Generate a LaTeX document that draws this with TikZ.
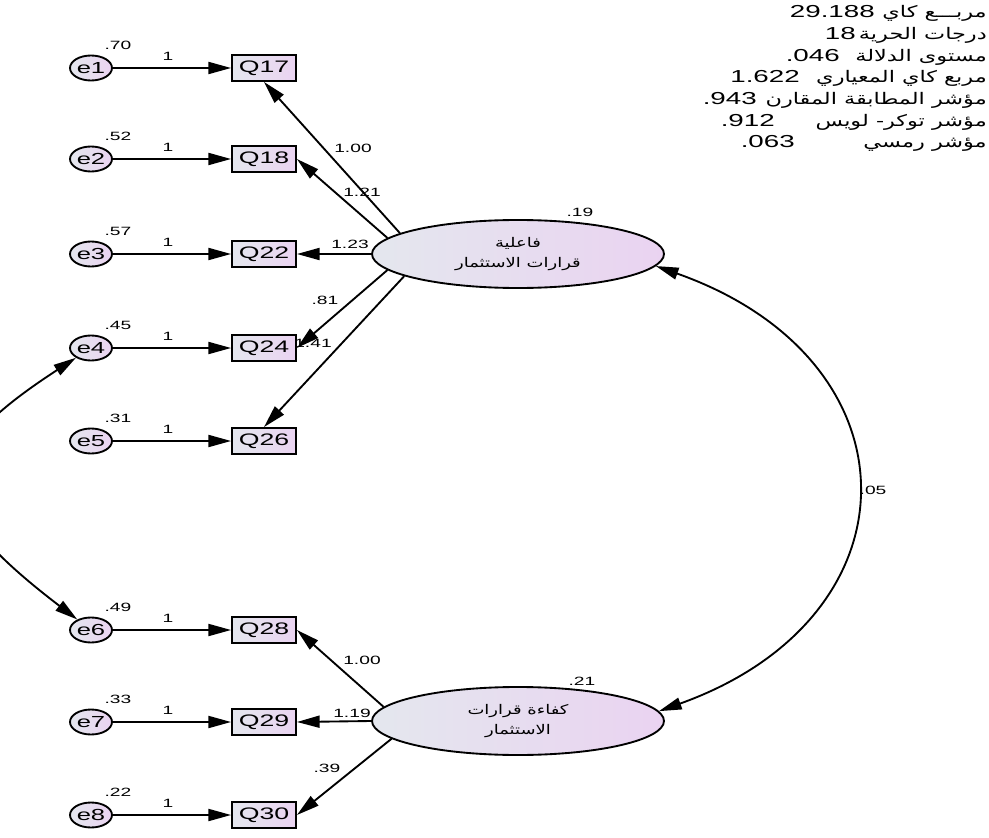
\documentclass[tikz,border=0pt]{standalone}
\usepackage{fontspec}
\setmainfont{Liberation Sans}[FakeStretch=1.6]
\newfontfamily\arabicfont[Script=Arabic,FakeStretch=1.35]{DejaVu Sans}
\newfontfamily\arabicwide[Script=Arabic,FakeStretch=1.4]{DejaVu Sans}
\TeXXeTstate=1
\usetikzlibrary{arrows.meta,shapes.geometric}
\definecolor{shadeL}{HTML}{E4E7EE}
\definecolor{shadeR}{HTML}{EAD3F1}
\tikzset{
  tip/.tip={Triangle[length=17pt,width=9pt]},
  edge/.style={line width=1.4pt,-tip},
  cov/.style={line width=1.4pt,tip-tip},
  errnode/.style={ellipse,draw,line width=1.4pt,left color=shadeL,right color=shadeR,
    minimum width=31.5pt,minimum height=18.75pt,inner sep=0pt,font=\fontsize{12}{12}\selectfont},
  itembox/.style={rectangle,draw,line width=1.4pt,left color=shadeL,right color=shadeR,
    minimum width=48pt,minimum height=19.5pt,inner sep=0pt,font=\fontsize{12.5}{13}\selectfont},
  factor/.style={ellipse,draw,line width=1.4pt,left color=shadeL,right color=shadeR,
    minimum width=219pt,minimum height=51pt,inner sep=0pt,align=center,
    font=\arabicfont\fontsize{10}{15}\selectfont},
  est/.style={font=\fontsize{9}{9}\selectfont,inner sep=0pt},
  fitar/.style={font=\arabicwide\fontsize{12}{13}\selectfont,inner sep=0pt,anchor=base east},
  fitnum/.style={font=\fontsize{13}{13}\selectfont,inner sep=0pt,anchor=base east},
}
\begin{document}
\begin{tikzpicture}[x=0.75pt,y=-0.75pt]
\clip (0,0) rectangle (989,838);
\fill[white] (0,0) rectangle (989,838);

% error terms, observed items and their unit paths
\foreach \i/\q/\yy/\v in {1/17/68/.70,2/18/159/.52,3/22/254/.57,4/24/348/.45,
                          5/26/441/.31,6/28/630/.49,7/29/722/.33,8/30/815/.22}{
  \node[errnode] (e\i) at (91,\yy) {e\i};
  \node[itembox] (q\q) at (264,\yy) {Q\q};
  \draw[edge] (e\i) -- (q\q);
  \node[est] (one\i) at (168,\yy-12) {1};
  \node[est] (var\i) at (118,\yy-23) {\v};
}

% latent factors
\node[factor] (f1) at (518,254) {\beginR فاعلية\endR\\\beginR قرارات الاستثمار\endR};
\node[factor] (f2) at (518,721) {\beginR كفاءة قرارات\endR\\\beginR الاستثمار\endR};
\node[est] (vf1) at (580,212) {.19};
\node[est] (vf2) at (582,681) {.21};

% loadings of the first factor
\draw[edge] (f1.170) -- (q17.south);
\draw[edge] (f1.173) -- (q18.east);
\draw[edge] (f1.west) -- (q22.east);
\draw[edge] (f1.-173) -- (q24.east);
\draw[edge] (f1.-169) -- (q26.north);
\node[est] (l17) at (353,148) {1.00};
\node[est] (l18) at (362,192) {1.21};
\node[est] (l22) at (350,244) {1.23};
\node[est] (l24) at (325,300) {.81};
\node[est] (l26) at (313,343) {1.41};

% loadings of the second factor
\draw[edge] (f2.174) -- (q28.east);
\draw[edge] (f2.west) -- (q29.east);
\draw[edge] (f2.-172) -- (q30.east);
\node[est] (l28) at (362,660) {1.00};
\node[est] (l29) at (352,713) {1.19};
\node[est] (l30) at (327,768) {.39};

% covariances
\draw[cov] (f1.-5) .. controls (922,360) and (922,617) .. (f2.4);
\node[est] (c12) at (873,490) {.05};
\draw[cov] (e4) .. controls (-75,456) and (-75,503) .. (e6);

% fit indices
\node[fitar] (a1) at (987,18) {\beginR مربـــع كاي\endR};
\node[fitar] (a2) at (987,40) {\beginR درجات الحرية\endR};
\node[fitar] (a3) at (987,62) {\beginR مستوى الدلالة\endR};
\node[fitar] (a4) at (987,83) {\beginR مربع كاي المعياري\endR};
\node[fitar] (a5) at (987,105) {\beginR مؤشر المطابقة المقارن\endR};
\node[fitar] (a6) at (987,127) {\beginR مؤشر توكر- لويس\endR};
\node[fitar] (a7) at (987,148) {\beginR مؤشر رمسي\endR};
\node[fitnum] (n1) at (875,18) {29.188};
\node[fitnum] (n2) at (856,40) {18};
\node[fitnum] (n3) at (840,62) {.046};
\node[fitnum] (n4) at (800,83) {1.622};
\node[fitnum] (n5) at (757,105) {.943};
\node[fitnum] (n6) at (775,127) {.912};
\node[fitnum] (n7) at (795,148) {.063};
\end{tikzpicture}
\end{document}
